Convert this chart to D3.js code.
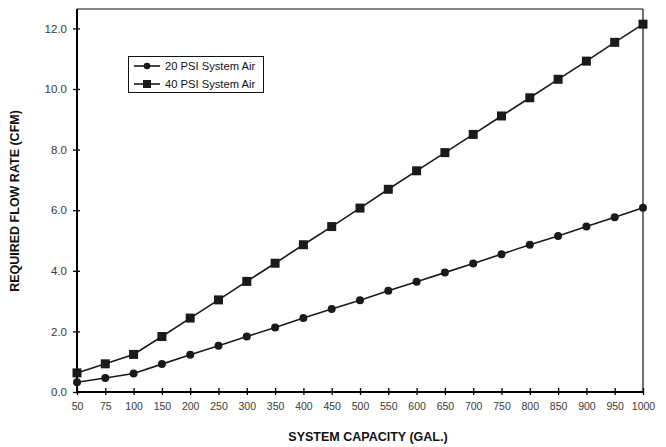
<!DOCTYPE html>
<html><head><meta charset="utf-8">
<script src="https://cdn.jsdelivr.net/npm/d3@7"></script>
<style>body{margin:0;background:#fff;}svg{display:block;}</style>
</head><body>
<script>
const capacities = ["50","75","100","150","200","250","300","350","400","450","500","550","600","650","700","750","800","850","900","950","1000"];
const psi20 = [0.32,0.46,0.61,0.92,1.23,1.53,1.83,2.13,2.44,2.74,3.03,3.34,3.64,3.94,4.24,4.55,4.86,5.15,5.46,5.77,6.08];
const psi40 = [0.63,0.93,1.24,1.83,2.44,3.04,3.65,4.25,4.86,5.46,6.07,6.69,7.30,7.90,8.50,9.11,9.71,10.32,10.92,11.54,12.14];
const yTicks = [0,2,4,6,8,10,12];
const seriesNames = ["20 PSI System Air","40 PSI System Air"];
const xTitle = "SYSTEM CAPACITY (GAL.)";
const yTitle = "REQUIRED FLOW RATE (CFM)";

const W = 666, H = 447;
const m = {left:77, right:23, top:9, bottom:55};
const svg = d3.select("body").append("svg").attr("width",W).attr("height",H);
const x = d3.scalePoint().domain(capacities).range([m.left, W-m.right]);
const y = d3.scaleLinear().domain([0,12.64]).range([H-m.bottom, m.top]);
const txt = "#3a3a3a";

// frame top & right
svg.append("line").attr("x1",m.left).attr("x2",W-m.right).attr("y1",m.top).attr("y2",m.top).attr("stroke","#111").attr("stroke-width",1.2);
svg.append("line").attr("x1",W-m.right).attr("x2",W-m.right).attr("y1",m.top).attr("y2",H-m.bottom).attr("stroke","#111").attr("stroke-width",1.2);

// y axis
const ya = svg.append("g").attr("transform",`translate(${m.left},0)`)
  .call(d3.axisLeft(y).tickValues(yTicks).tickFormat(d3.format(".1f")).tickSizeInner(4).tickSizeOuter(0).tickPadding(6));
ya.select(".domain").attr("stroke","#000").attr("stroke-width",2).attr("d",`M0,${m.top}V${H-m.bottom}`);
ya.selectAll(".tick line").attr("x1",-4).attr("x2",3).attr("stroke","#000").attr("stroke-width",1.3);
ya.selectAll(".tick text").attr("fill",txt).style("font-family","Liberation Sans, Arial, sans-serif").style("font-size","11.5px");

// x axis
const xa = svg.append("g").attr("transform",`translate(0,${H-m.bottom})`)
  .call(d3.axisBottom(x).tickSizeInner(3).tickSizeOuter(0).tickPadding(8));
xa.select(".domain").attr("stroke","#000").attr("stroke-width",2.2).attr("d",`M${m.left-1},0H${W-m.right}`);
xa.selectAll(".tick line").attr("y1",-4).attr("y2",3).attr("stroke","#000").attr("stroke-width",1.3);
xa.selectAll(".tick text").attr("fill",txt).style("font-family","Liberation Sans, Arial, sans-serif").style("font-size","10.5px");

// titles
svg.append("text").attr("x",368).attr("y",441).attr("text-anchor","middle")
  .style("font-family","Liberation Sans Narrow, Arial Narrow, Liberation Sans, sans-serif").style("font-weight","bold").style("font-size","12.5px").attr("fill","#111").text(xTitle);
svg.append("text").attr("transform","translate(19,201) rotate(-90)").attr("text-anchor","middle")
  .style("font-family","Liberation Sans Narrow, Arial Narrow, Liberation Sans, sans-serif").style("font-weight","bold").style("font-size","12.5px").attr("fill","#111").text(yTitle);

const line = d3.line().x((d,i)=>x(capacities[i])).y(d=>y(d));
const series = [psi20, psi40];
series.forEach((vals,si)=>{
  svg.append("path").datum(vals).attr("d",line).attr("fill","none").attr("stroke","#1a1a1a").attr("stroke-width",1.6);
  const g = svg.append("g");
  if(si===0){
    g.selectAll("circle").data(vals).join("circle").attr("cx",(d,i)=>x(capacities[i])).attr("cy",d=>y(d)).attr("r",4).attr("fill","#1a1a1a");
  } else {
    g.selectAll("rect").data(vals).join("rect").attr("x",(d,i)=>x(capacities[i])-4.5).attr("y",d=>y(d)-4.5).attr("width",9).attr("height",9).attr("fill","#1a1a1a");
  }
});

// legend
const lg = svg.append("g");
lg.append("rect").attr("x",128.5).attr("y",56.5).attr("width",135).attr("height",36).attr("fill","#fff").attr("stroke","#111").attr("stroke-width",1);
seriesNames.forEach((n,i)=>{
  const cy = 66 + i*18;
  lg.append("line").attr("x1",134).attr("x2",160).attr("y1",cy).attr("y2",cy).attr("stroke","#1a1a1a").attr("stroke-width",1.6);
  if(i===0) lg.append("circle").attr("cx",147).attr("cy",cy).attr("r",3.3).attr("fill","#1a1a1a");
  else lg.append("rect").attr("x",143).attr("y",cy-4).attr("width",8).attr("height",8).attr("fill","#1a1a1a");
  lg.append("text").attr("x",165).attr("y",cy).attr("dy","0.35em").style("font-family","Liberation Sans, Arial, sans-serif").style("font-size","11.2px").attr("fill","#111").text(n);
});
</script>
</body></html>
